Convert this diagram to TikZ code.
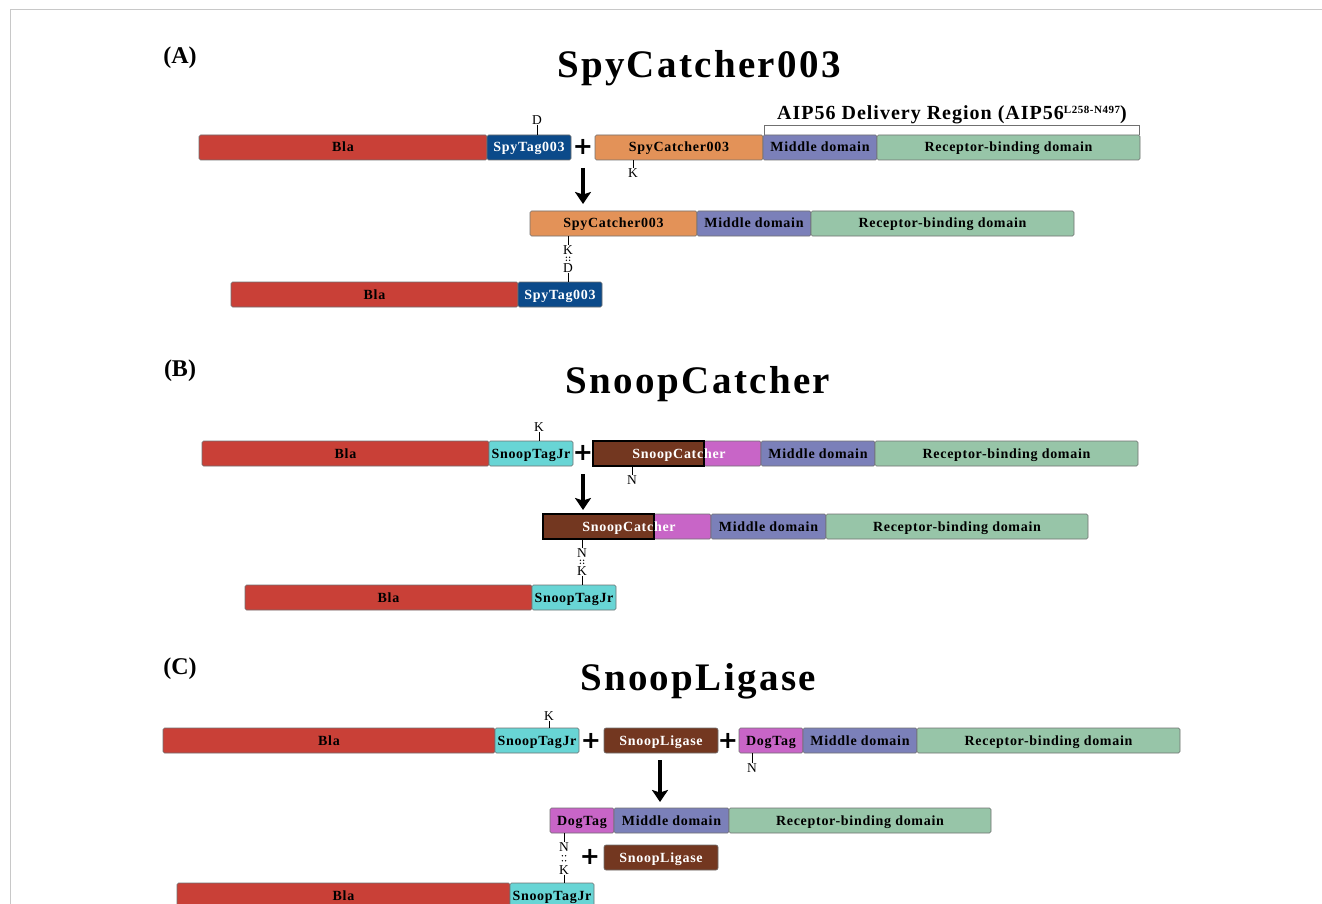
\documentclass[tikz,border=0pt]{standalone}
\usepackage{fontspec}
\setmainfont{Liberation Serif}
\newfontfamily\lblfont[LetterSpace=5]{Liberation Serif}
\newfontfamily\ttlfont[LetterSpace=6]{Liberation Serif}
\newfontfamily\aipfont[LetterSpace=5]{Liberation Serif}
\newfontfamily\plusfont{DejaVu Sans}
\usetikzlibrary{arrows.meta,calc}
\definecolor{blared}{HTML}{C94037}
\definecolor{spyblue}{HTML}{0B4A8A}
\definecolor{catorange}{HTML}{E39258}
\definecolor{middom}{HTML}{7B80B9}
\definecolor{recdom}{HTML}{97C5A8}
\definecolor{snoopcyan}{HTML}{68D5D5}
\definecolor{brownc}{HTML}{733720}
\definecolor{magentac}{HTML}{C865C7}
\definecolor{segborder}{HTML}{707070}
\definecolor{framegray}{HTML}{C8C8C8}
\tikzset{
  seg/.style={draw=segborder, line width=0.6pt, minimum height=25pt, inner sep=0pt, outer sep=0pt,
    anchor=west, rounded corners=1.5pt, text=black, text height=11pt, text depth=2pt,
    font=\lblfont\bfseries\fontsize{14}{14}\selectfont},
  lbl/.style={inner sep=0pt, text height=11pt, text depth=2pt, font=\lblfont\bfseries\fontsize{14}{14}\selectfont},
  res/.style={inner sep=0.3pt, text height=9pt, text depth=0pt, font=\fontsize{13.5}{13.5}\selectfont},
  plusnode/.style={inner sep=0pt, font=\plusfont\bfseries\fontsize{24}{24}\selectfont},
  ttl/.style={inner sep=0pt, font=\ttlfont\bfseries\fontsize{39}{39}\selectfont},
  panellbl/.style={inner sep=0pt, font=\bfseries\fontsize{24}{24}\selectfont},
  bigarrow/.style={line width=3.3pt, -{Stealth[width=16pt,length=12pt,inset=2.5pt]}},
  tickline/.style={line width=0.7pt},
  bonddot/.style={fill=black, draw=none},
}
\newcommand{\bondline}[2]{%
  \foreach \f in {0.3,0.7}{%
    \fill[bonddot] ($(#1.south)!\f!(#2.north)+(-1.6,0)$) circle (0.75pt);
    \fill[bonddot] ($(#1.south)!\f!(#2.north)+(1.6,0)$) circle (0.75pt);}}
\begin{document}
\begin{tikzpicture}[x=1pt,y=-1pt]
\useasboundingbox (0,0) rectangle (1322,904);
\draw[framegray, line width=1pt] (10,904) -- (10,10) -- (1322,10);

% ================= (A) =================
\node[panellbl] (pA) at (180,58) {(A)};
\node[ttl] (tA) at (699,68) {SpyCatcher003};

\node[seg, fill=blared, minimum width=288pt] (a1bla) at (199,147.5) {Bla};
\node[seg, fill=spyblue, text=white, minimum width=84pt] (a1tag) at (a1bla.east) {SpyTag003};
\node[res] (a1d) at (537,120) {D};
\draw[tickline] (a1d.south) -- (a1d.south |- a1tag.north);
\node[plusnode] (a1plus) at (583,147) {+};
\node[seg, fill=catorange, minimum width=168pt] (a2cat) at (595,147.5) {SpyCatcher003};
\node[seg, fill=middom, minimum width=114pt] (a2mid) at (a2cat.east) {Middle domain};
\node[seg, fill=recdom, minimum width=263pt] (a2rec) at (a2mid.east) {Receptor-binding domain};
\node[res] (a2k) at (633,173) {K};
\draw[tickline] (a2k.north) -- (a2k.north |- a2cat.south);
\coordinate (brl) at (764,125);
\coordinate (brr) at (1139,125);
\draw[segborder, line width=0.8pt] (brl |- a2mid.north) -- (brl) -- (brr) -- (brr |- a2rec.north);
\node[inner sep=0pt, font=\aipfont\bfseries\fontsize{20}{20}\selectfont] (aip) at (952,115)
  {AIP56 Delivery Region (AIP56{\fontsize{11}{11}\selectfont\raisebox{6pt}{L258-N497}})};

\coordinate (arA1) at (583,168);
\coordinate (arA2) at (583,204);
\draw[bigarrow] (arA1) -- (arA2);

\node[seg, fill=catorange, minimum width=167pt] (a3cat) at (530,223.5) {SpyCatcher003};
\node[seg, fill=middom, minimum width=114pt] (a3mid) at (a3cat.east) {Middle domain};
\node[seg, fill=recdom, minimum width=263pt] (a3rec) at (a3mid.east) {Receptor-binding domain};
\node[res] (a3k) at (568,250) {K};
\node[res] (a4d) at (568,267.5) {D};
\draw[tickline] (a3k.north) -- (a3k.north |- a3cat.south);
\bondline{a3k}{a4d}
\node[seg, fill=blared, minimum width=287pt] (a4bla) at (231,294.5) {Bla};
\node[seg, fill=spyblue, text=white, minimum width=84pt] (a4tag) at (a4bla.east) {SpyTag003};
\draw[tickline] (a4d.south) -- (a4d.south |- a4tag.north);

% ================= (B) =================
\node[panellbl] (pB) at (180,371) {(B)};
\node[ttl] (tB) at (698,384) {SnoopCatcher};

\node[seg, fill=blared, minimum width=287pt] (b1bla) at (202,453.5) {Bla};
\node[seg, fill=snoopcyan, minimum width=84pt] (b1tag) at (b1bla.east) {SnoopTagJr};
\node[res] (b1k) at (539,427) {K};
\draw[tickline] (b1k.south) -- (b1k.south |- b1tag.north);
\node[plusnode] (b1plus) at (583,453) {+};
\node[seg, fill=magentac, minimum width=57pt] (b2mag) at (704,453.5) {};
\node[seg, fill=brownc, draw=black, line width=1.2pt, rounded corners=0pt, minimum width=111pt] (b2sc) at (593,453.5) {};
\node[seg, fill=middom, minimum width=114pt] (b2mid) at (b2mag.east) {Middle domain};
\node[seg, fill=recdom, minimum width=263pt] (b2rec) at (b2mid.east) {Receptor-binding domain};
\node[lbl, text=white] (b2txt) at (679,453.5) {SnoopCatcher};
\node[res] (b2n) at (632,480) {N};
\draw[tickline] (b2n.north) -- (b2n.north |- b2sc.south);

\coordinate (arB1) at (583,474);
\coordinate (arB2) at (583,510);
\draw[bigarrow] (arB1) -- (arB2);

\node[seg, fill=magentac, minimum width=57pt] (b3mag) at (654,526.5) {};
\node[seg, fill=brownc, draw=black, line width=1.2pt, rounded corners=0pt, minimum width=111pt] (b3sc) at (543,526.5) {};
\node[seg, fill=middom, minimum width=115pt] (b3mid) at (b3mag.east) {Middle domain};
\node[seg, fill=recdom, minimum width=262pt] (b3rec) at (b3mid.east) {Receptor-binding domain};
\node[lbl, text=white] (b3txt) at (629,526.5) {SnoopCatcher};
\node[res] (b3n) at (582,553) {N};
\node[res] (b4k) at (582,570.5) {K};
\draw[tickline] (b3n.north) -- (b3n.north |- b3sc.south);
\bondline{b3n}{b4k}
\node[seg, fill=blared, minimum width=287pt] (b4bla) at (245,597.5) {Bla};
\node[seg, fill=snoopcyan, minimum width=84pt] (b4tag) at (b4bla.east) {SnoopTagJr};
\draw[tickline] (b4k.south) -- (b4k.south |- b4tag.north);

% ================= (C) =================
\node[panellbl] (pC) at (180,669) {(C)};
\node[ttl] (tC) at (698,681) {SnoopLigase};

\node[seg, fill=blared, minimum width=332pt] (c1bla) at (163,740.5) {Bla};
\node[seg, fill=snoopcyan, minimum width=84pt] (c1tag) at (c1bla.east) {SnoopTagJr};
\node[res] (c1k) at (549,716) {K};
\draw[tickline] (c1k.south) -- (c1k.south |- c1tag.north);
\node[plusnode] (c1plus) at (591,741) {+};
\node[seg, fill=brownc, text=white, minimum width=114pt, rounded corners=2pt] (c1lig) at (604,740.5) {SnoopLigase};
\node[plusnode] (c1plus2) at (728,741) {+};
\node[seg, fill=magentac, minimum width=64pt] (c2dog) at (739,740.5) {DogTag};
\node[seg, fill=middom, minimum width=114pt] (c2mid) at (c2dog.east) {Middle domain};
\node[seg, fill=recdom, minimum width=263pt] (c2rec) at (c2mid.east) {Receptor-binding domain};
\node[res] (c2n) at (752,768) {N};
\draw[tickline] (c2n.north) -- (c2n.north |- c2dog.south);

\coordinate (arC1) at (660,760);
\coordinate (arC2) at (660,802);
\draw[bigarrow] (arC1) -- (arC2);

\node[seg, fill=magentac, minimum width=64pt] (c3dog) at (550,820.5) {DogTag};
\node[seg, fill=middom, minimum width=115pt] (c3mid) at (c3dog.east) {Middle domain};
\node[seg, fill=recdom, minimum width=262pt] (c3rec) at (c3mid.east) {Receptor-binding domain};
\node[res] (c3n) at (564,847) {N};
\node[res] (c4k) at (564,869.5) {K};
\draw[tickline] (c3n.north) -- (c3n.north |- c3dog.south);
\bondline{c3n}{c4k}
\node[plusnode] (c3plus) at (590,857) {+};
\node[seg, fill=brownc, text=white, minimum width=114pt, rounded corners=2pt] (c3lig) at (604,857.5) {SnoopLigase};
\node[seg, fill=blared, minimum width=333pt] (c4bla) at (177,895.5) {Bla};
\node[seg, fill=snoopcyan, minimum width=84pt] (c4tag) at (c4bla.east) {SnoopTagJr};
\draw[tickline] (c4k.south) -- (c4k.south |- c4tag.north);
\end{tikzpicture}
\end{document}
